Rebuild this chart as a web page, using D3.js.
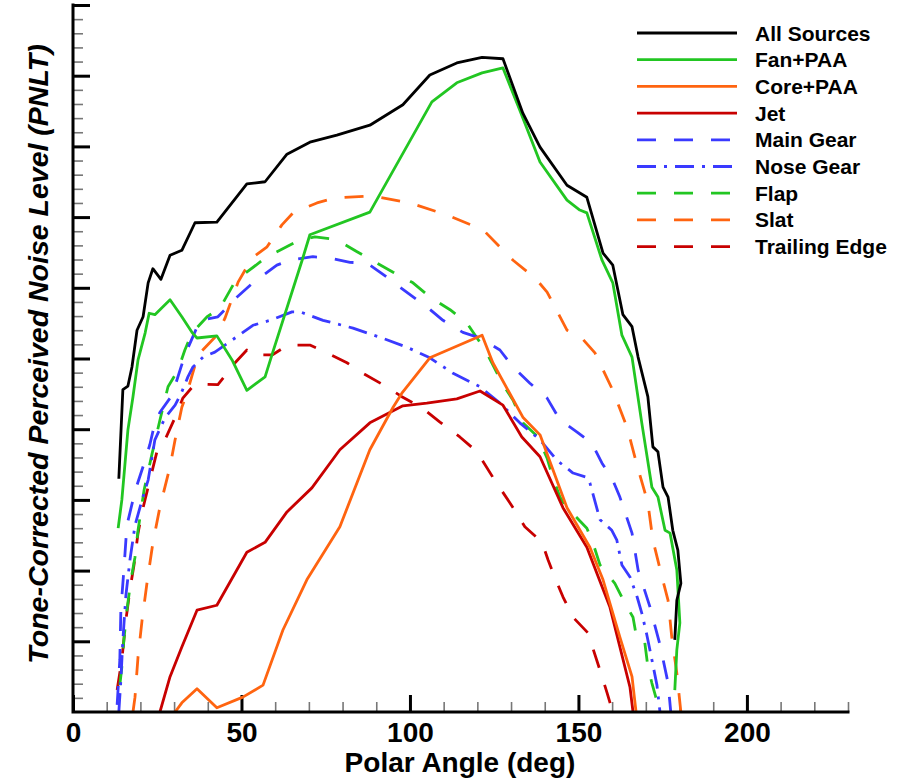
<!DOCTYPE html>
<html>
<head>
<meta charset="utf-8">
<script src="https://cdn.jsdelivr.net/npm/d3@7"></script>
<style>
  body { margin: 0; background: #fff; }
  svg text { font-family: "Liberation Sans", Arial, Helvetica, sans-serif; font-weight: bold; }
</style>
</head>
<body>
<svg id="chart" width="910" height="778"></svg>
<script>
// series: [polar angle (deg), PNLT (relative, 0-100 on unlabelled axis)]
var allSources = [[13.6,33.0],[14.8,45.6],[16.3,46.1],[17.5,48.8],[19.0,54.0],[20.8,55.9],[22.3,60.7],[23.7,62.7],[26.1,61.2],[28.8,64.6],[32.3,65.3],[36.2,69.2],[42.7,69.3],[51.6,74.7],[57.0,75.0],[63.5,78.9],[70.3,80.6],[78.3,81.6],[88.1,83.0],[97.9,85.9],[105.9,90.1],[113.9,91.8],[121.4,92.6],[127.6,92.4],[133.5,84.7],[138.6,79.9],[146.6,74.5],[152.5,72.8],[157.3,64.9],[160.2,63.2],[163.2,56.2],[165.9,54.5],[167.7,50.2],[170.6,44.6],[172.1,37.5],[173.6,36.8],[175.1,31.8],[176.6,30.4],[178.0,25.7],[179.5,22.9],[180.4,18.2],[179.2,15.8],[178.6,10.2]]
var fanPAA = [[13.4,26.0],[14.5,30.0],[16.3,39.9],[17.8,44.6],[19.3,49.8],[21.4,53.6],[22.6,56.4],[24.3,56.2],[28.8,58.3],[32.3,55.9],[35.3,53.7],[36.8,52.9],[42.7,53.2],[47.2,49.8],[51.6,45.5],[57.0,47.4],[59.3,50.9],[68.0,63.9],[70.3,67.5],[88.1,70.7],[106.5,86.3],[113.9,89.0],[121.4,90.4],[127.6,91.1],[132.6,85.1],[138.6,77.8],[146.6,72.4],[150.4,71.0],[152.5,70.6],[157.0,63.9],[160.2,60.7],[162.9,53.3],[165.9,50.2],[168.8,40.9],[171.8,31.8],[173.6,30.4],[175.7,25.7],[177.2,25.3],[179.2,20.1],[180.1,12.6],[179.2,8.8],[178.6,3.1]]
var corePAA = [[30.3,0.0],[32.3,1.3],[36.8,3.3],[42.7,0.6],[50.4,2.1],[56.4,3.8],[62.3,11.6],[69.4,18.7],[79.2,26.2],[88.1,37.1],[95.0,43.1],[97.6,45.1],[105.9,50.1],[121.4,53.3],[124.6,49.4],[133.5,41.7],[138.6,39.2],[146.6,28.9],[153.4,23.3],[157.3,18.7],[162.3,10.6],[165.9,5.0],[167.1,0.0]]
var jet = [[25.8,0.0],[28.8,5.0],[32.3,9.2],[36.8,14.4],[42.7,15.1],[51.6,22.6],[57.0,24.0],[63.5,28.3],[70.9,31.7],[79.2,37.1],[88.1,40.9],[97.9,43.3],[105.0,43.7],[113.9,44.3],[120.8,45.4],[127.6,43.4],[133.2,38.9],[138.6,36.1],[145.4,28.9],[152.5,23.3],[159.3,14.9],[165.3,3.5],[166.2,0.0]]
var mainGear = [[13.1,1.0],[13.9,7.4],[14.2,14.4],[15.1,20.1],[16.0,26.4],[17.8,30.0],[19.0,32.1],[21.4,35.6],[22.8,37.8],[24.3,40.9],[25.8,42.4],[29.4,44.8],[33.2,50.5],[37.7,55.4],[43.0,55.9],[48.7,58.7],[53.4,60.7],[60.5,63.2],[64.4,63.9],[71.2,64.4],[76.3,64.2],[82.2,63.6],[87.2,63.5],[93.2,61.5],[97.0,60.1],[105.0,57.3],[109.8,55.4],[115.7,53.7],[120.8,52.9],[126.7,51.2],[130.6,48.8],[135.6,46.5],[140.7,44.4],[144.5,41.3],[149.6,39.6],[154.0,38.0],[157.0,35.2],[160.2,32.8],[162.3,30.4],[165.9,25.3],[167.7,20.1],[171.2,14.9],[174.2,9.5],[176.6,4.1],[177.4,0.0]]
var noseGear = [[13.6,0.0],[14.2,4.5],[14.8,10.2],[15.7,16.5],[16.9,21.5],[18.4,26.4],[20.5,30.0],[22.3,32.8],[24.3,38.5],[27.3,41.6],[30.3,43.4],[32.3,45.3],[34.1,47.4],[35.6,48.8],[38.6,50.2],[42.1,50.9],[47.2,52.6],[53.4,54.7],[58.5,55.4],[65.0,56.6],[67.4,56.6],[74.2,55.4],[83.1,54.3],[91.1,53.0],[99.1,51.6],[105.9,50.1],[112.8,47.9],[120.8,46.0],[126.7,43.7],[132.6,40.9],[138.6,38.5],[143.6,35.6],[148.4,33.8],[152.5,33.2],[153.4,32.4],[156.4,27.2],[159.9,25.7],[161.4,24.3],[162.9,20.8],[165.3,19.1],[167.4,16.3],[168.8,14.0],[170.3,10.9],[171.8,7.4],[173.3,3.8],[174.2,0.0]]
var flap = [[13.9,3.8],[14.5,6.4],[15.1,10.2],[16.0,14.4],[17.2,18.7],[18.4,21.9],[19.3,25.7],[21.1,31.4],[23.4,36.4],[25.8,41.3],[28.2,46.0],[31.2,48.4],[33.2,51.2],[35.3,53.6],[39.8,55.9],[43.6,57.1],[47.5,60.4],[49.6,61.5],[57.6,64.4],[61.4,65.3],[67.4,66.8],[71.8,67.2],[78.3,66.8],[84.3,65.1],[90.2,63.5],[95.0,62.2],[100.9,60.7],[105.9,58.7],[111.9,56.9],[116.9,55.0],[122.3,51.2],[124.6,49.1],[127.6,46.3],[130.6,44.1],[133.5,40.9],[138.0,38.9],[140.7,35.9],[142.4,33.2],[144.5,30.4],[146.6,28.9],[152.5,26.0],[154.3,23.9],[156.4,20.8],[160.8,18.2],[163.8,15.4],[166.2,13.4],[167.4,10.2],[169.7,9.8],[170.6,6.4],[171.8,4.1],[174.2,0.0]]
var slat = [[17.8,0.0],[18.4,2.1],[19.3,7.8],[20.5,13.0],[22.0,18.4],[23.7,23.9],[25.8,29.0],[28.8,34.7],[30.3,38.5],[32.3,43.1],[33.8,45.1],[37.1,50.5],[42.7,53.3],[45.1,55.7],[49.0,60.8],[53.1,64.2],[57.6,65.8],[62.0,68.9],[65.3,70.6],[72.4,72.0],[77.7,72.7],[89.0,73.0],[100.0,72.0],[111.0,70.3],[121.7,68.2],[130.6,63.9],[137.1,61.4],[140.7,59.4],[146.6,54.0],[150.4,53.2],[154.9,50.8],[160.2,45.5],[164.4,40.3],[167.4,34.9],[170.6,29.6],[172.1,24.3],[174.8,19.1],[176.6,15.8],[177.7,10.6],[179.2,5.5],[180.4,0.0]]
var trailingEdge = [[13.1,3.1],[14.5,7.4],[15.7,13.0],[16.9,17.3],[18.1,20.8],[19.3,25.3],[20.5,28.3],[22.6,32.4],[24.9,36.8],[27.3,38.5],[30.9,42.3],[32.6,44.4],[36.2,46.4],[43.0,46.3],[48.1,49.4],[51.6,51.2],[53.1,50.5],[59.1,50.5],[63.8,51.9],[70.3,51.9],[75.4,50.8],[81.3,49.4],[86.1,47.9],[92.0,46.3],[97.6,44.6],[103.6,43.0],[108.9,41.0],[114.8,38.9],[119.9,36.8],[124.6,33.2],[130.6,28.9],[134.1,26.2],[139.2,24.0],[141.0,21.5],[143.0,19.0],[145.4,16.3],[148.4,13.4],[152.8,11.2],[156.4,5.9],[158.5,2.7],[160.2,0.0]]

var seriesNames = ["All Sources", "Fan+PAA", "Core+PAA", "Jet", "Main Gear", "Nose Gear", "Flap", "Slat", "Trailing Edge"]
var seriesData = [allSources, fanPAA, corePAA, jet, mainGear, noseGear, flap, slat, trailingEdge]
var seriesColors = ["#000000", "#22c622", "#ff6410", "#c80000", "#3a3aff", "#3a3aff", "#22c622", "#ff6410", "#c80000"]
var seriesDash = [null, null, null, null, "19,18", "19,8,3,8", "19,18", "19,18", "19,18"]

var xMajor = [0, 50, 100, 150, 200]
var xMinor = [10, 20, 30, 40, 60, 70, 80, 90, 110, 120, 130, 140, 160, 170, 180, 190, 210, 220, 230]

var svg = d3.select("#chart")
// plot box in pixels (not "top": that name is taken by window.top)
var plotLeft = 73, plotRight = 848, plotTop = 5, plotBottom = 712

var x = d3.scaleLinear().domain([0, 230]).range([plotLeft, plotRight])
var y = d3.scaleLinear().domain([0, 100]).range([plotBottom, plotTop])

// y ticks: major every 10, minor every 2
var yMajor = d3.range(10, 101, 10)
var yMinor = d3.range(2, 100, 2).filter(function(v) { return v % 10 !== 0 })

svg.append("defs").append("clipPath").attr("id", "plotclip")
  .append("rect").attr("x", plotLeft).attr("y", plotTop - 2)
  .attr("width", plotRight - plotLeft).attr("height", plotBottom - plotTop + 2)

// minor ticks
svg.append("g").attr("transform", "translate(0," + plotBottom + ")")
  .call(d3.axisBottom(x).tickValues(xMinor).tickSize(-10).tickFormat(""))
  .call(function(g) { g.select(".domain").remove() })
  .selectAll("line").attr("stroke", "#777").attr("stroke-width", 1.6)

svg.append("g").attr("transform", "translate(" + plotLeft + ",0)")
  .call(d3.axisLeft(y).tickValues(yMinor).tickSize(-10).tickFormat(""))
  .call(function(g) { g.select(".domain").remove() })
  .selectAll("line").attr("stroke", "#777").attr("stroke-width", 1.6)

// major ticks
var xAxis = svg.append("g").attr("transform", "translate(0," + plotBottom + ")")
  .call(d3.axisBottom(x).tickValues(xMajor).tickSize(-17).tickPadding(22).tickFormat(d3.format("d")))
xAxis.select(".domain").remove()
xAxis.selectAll("line").attr("stroke", "#000").attr("stroke-width", 3)
xAxis.selectAll("text").attr("font-size", 28).attr("fill", "#000").attr("dy", "0.3em")

var yAxis = svg.append("g").attr("transform", "translate(" + plotLeft + ",0)")
  .call(d3.axisLeft(y).tickValues(yMajor).tickSize(-17).tickFormat(""))
yAxis.select(".domain").remove()
yAxis.selectAll("line").attr("stroke", "#000").attr("stroke-width", 3)

// curves
var line = d3.line().x(function(d) { return x(d[0]) }).y(function(d) { return y(d[1]) })
var plot = svg.append("g").attr("clip-path", "url(#plotclip)")
for (var i = seriesData.length - 1; i >= 0; i--) {
  plot.append("path")
    .datum(seriesData[i])
    .attr("d", line)
    .attr("fill", "none")
    .attr("stroke", seriesColors[i])
    .attr("stroke-width", 2.8)
    .attr("stroke-linejoin", "round")
    .attr("stroke-dasharray", seriesDash[i])
}

// axis lines
svg.append("path")
  .attr("d", "M" + plotLeft + "," + plotTop + "V" + plotBottom + "H" + plotRight)
  .attr("fill", "none").attr("stroke", "#000").attr("stroke-width", 3)
  .attr("stroke-linecap", "square")

// axis titles
svg.append("text")
  .attr("x", 460).attr("y", 772)
  .attr("text-anchor", "middle").attr("font-size", 28)
  .text("Polar Angle (deg)")

svg.append("text")
  .attr("transform", "translate(48,354) rotate(-90)")
  .attr("text-anchor", "middle").attr("font-size", 28.5).attr("font-style", "italic")
  .text("Tone-Corrected Perceived Noise Level (PNLT)")

// legend
var legend = svg.append("g")
seriesNames.forEach(function(name, i) {
  var ly = 33 + i * 26.7
  legend.append("line")
    .attr("x1", 637).attr("x2", 737).attr("y1", ly).attr("y2", ly)
    .attr("stroke", seriesColors[i]).attr("stroke-width", 2.8)
    .attr("stroke-dasharray", seriesDash[i])
  legend.append("text")
    .attr("x", 755).attr("y", ly).attr("dy", "0.36em")
    .attr("font-size", 21)
    .text(name)
})
</script>
</body>
</html>
